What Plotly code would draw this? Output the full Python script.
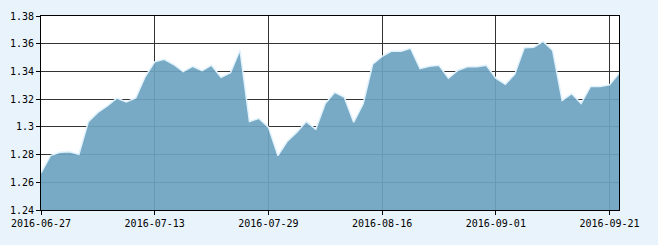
import plotly.graph_objects as go

dates = [
    "2016-06-27", "2016-06-28", "2016-06-29", "2016-06-30", "2016-07-01",
    "2016-07-04", "2016-07-05", "2016-07-06", "2016-07-07", "2016-07-08",
    "2016-07-11", "2016-07-12", "2016-07-13", "2016-07-14", "2016-07-15",
    "2016-07-18", "2016-07-19", "2016-07-20", "2016-07-21", "2016-07-22",
    "2016-07-25", "2016-07-26", "2016-07-27", "2016-07-28", "2016-07-29",
    "2016-08-01", "2016-08-02", "2016-08-03", "2016-08-04", "2016-08-05",
    "2016-08-08", "2016-08-09", "2016-08-10", "2016-08-11", "2016-08-12",
    "2016-08-15", "2016-08-16", "2016-08-17", "2016-08-18", "2016-08-19",
    "2016-08-22", "2016-08-23", "2016-08-24", "2016-08-25", "2016-08-26",
    "2016-08-29", "2016-08-30", "2016-08-31", "2016-09-01", "2016-09-02",
    "2016-09-05", "2016-09-06", "2016-09-07", "2016-09-08", "2016-09-09",
    "2016-09-12", "2016-09-13", "2016-09-14", "2016-09-19", "2016-09-20",
    "2016-09-21", "2016-09-22",
]

values = [
    1.2668, 1.2793, 1.2817, 1.2821, 1.2802, 1.3038, 1.3104, 1.3151, 1.3207, 1.3179,
    1.3208, 1.3363, 1.3469, 1.3487, 1.3450, 1.3398, 1.3436, 1.3405, 1.3445, 1.3358,
    1.3391, 1.3555, 1.3038, 1.3061, 1.2998, 1.2793, 1.2897, 1.2962, 1.3038, 1.2982,
    1.3168, 1.3250, 1.3215, 1.3033, 1.3167, 1.3452, 1.3508, 1.3546, 1.3546, 1.3567,
    1.3421, 1.3438, 1.3445, 1.3351, 1.3409, 1.3433, 1.3433, 1.3445, 1.3351, 1.3308,
    1.3380, 1.3570, 1.3575, 1.3617, 1.3551, 1.3191, 1.3240, 1.3169, 1.3292, 1.3292,
    1.3303, 1.3386,
]

x_tick_vals = ["2016-06-27", "2016-07-13", "2016-07-29", "2016-08-16", "2016-09-01", "2016-09-21"]
y_tick_vals = [1.24, 1.26, 1.28, 1.30, 1.32, 1.34, 1.36, 1.38]
y_tick_text = ["1.24", "1.26", "1.28", "1.3", "1.32", "1.34", "1.36", "1.38"]

fig = go.Figure()
fig.add_trace(go.Scatter(
    x=dates, y=values, mode="lines",
    fill="tozeroy",
    fillcolor="rgba(108,163,192,0.92)",
    line=dict(color="rgba(225,242,252,1)", width=1.5),
    hoverinfo="skip",
))

font = dict(family="DejaVu Sans Mono", size=10, color="#000000")

fig.update_layout(
    width=658, height=245,
    margin=dict(l=39, r=39, t=10, b=35),
    paper_bgcolor="rgb(232,243,251)",
    plot_bgcolor="#ffffff",
    showlegend=False,
    font=font,
    xaxis=dict(
        type="category",
        range=[0, len(dates) - 1],
        tickmode="array", tickvals=x_tick_vals, ticktext=x_tick_vals,
        showgrid=True, gridcolor="#333333", gridwidth=1,
        showline=True, linecolor="#000000", linewidth=1, mirror=True,
        ticks="outside", ticklen=4, tickcolor="#000000",
        tickangle=0, tickfont=font,
        zeroline=False,
    ),
    yaxis=dict(
        range=[1.24, 1.38],
        tickmode="array", tickvals=y_tick_vals, ticktext=y_tick_text,
        showgrid=True, gridcolor="#333333", gridwidth=1,
        showline=True, linecolor="#000000", linewidth=1, mirror=True,
        ticks="outside", ticklen=4, tickcolor="#000000",
        tickfont=font,
        zeroline=False,
    ),
)

fig.write_html("out.html")
